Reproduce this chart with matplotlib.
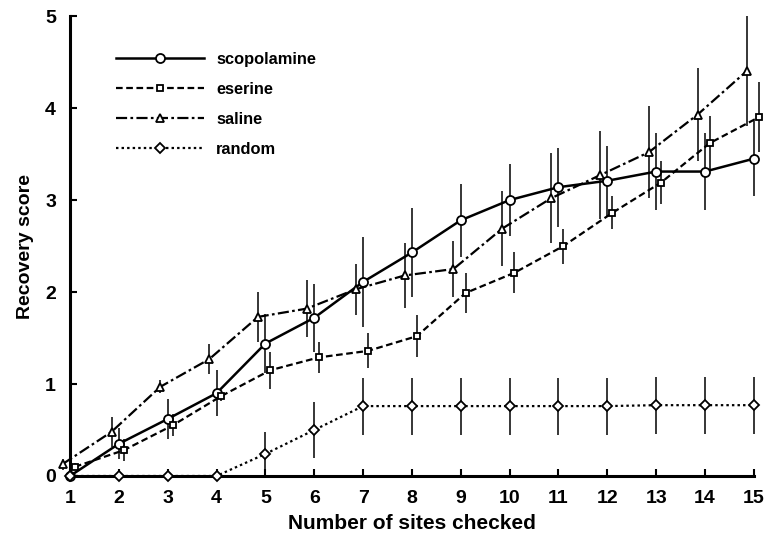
import matplotlib
matplotlib.use("Agg")
import matplotlib.pyplot as plt
import numpy as np

sites = [1, 2, 3, 4, 5, 6, 7, 8, 9, 10, 11, 12, 13, 14, 15]

scopolamine = [0.0, 0.35, 0.62, 0.90, 1.44, 1.72, 2.11, 2.43, 2.78, 3.00, 3.14, 3.21, 3.31, 3.31, 3.45]
scopolamine_err = [0.0, 0.17, 0.22, 0.25, 0.32, 0.37, 0.49, 0.48, 0.40, 0.39, 0.43, 0.38, 0.42, 0.42, 0.41]

eserine = [0.10, 0.28, 0.55, 0.87, 1.15, 1.29, 1.36, 1.52, 1.99, 2.21, 2.50, 2.86, 3.19, 3.62, 3.90]
eserine_err = [0.04, 0.12, 0.12, 0.05, 0.20, 0.17, 0.19, 0.23, 0.22, 0.22, 0.19, 0.18, 0.23, 0.29, 0.38]

saline = [0.13, 0.48, 0.97, 1.27, 1.73, 1.82, 2.03, 2.18, 2.25, 2.69, 3.02, 3.27, 3.52, 3.93, 4.40]
saline_err = [0.06, 0.16, 0.07, 0.16, 0.27, 0.31, 0.28, 0.35, 0.30, 0.41, 0.49, 0.48, 0.50, 0.51, 0.60]

random_ = [0.0, 0.0, 0.0, 0.0, 0.24, 0.50, 0.76, 0.76, 0.76, 0.76, 0.76, 0.76, 0.77, 0.77, 0.77]
random_err = [0.0, 0.0, 0.0, 0.0, 0.24, 0.30, 0.31, 0.31, 0.31, 0.31, 0.31, 0.31, 0.31, 0.31, 0.31]

labels = ["scopolamine", "eserine", "saline", "random"]
x_ticks = list(range(1, 16))
y_ticks = [0, 1, 2, 3, 4, 5]

FONT = "Liberation Sans"

fig = plt.figure(figsize=(7.7, 5.37), dpi=100)
ax = fig.add_axes([0.0909, 0.1136, 0.979 - 0.0909, 0.970 - 0.1136])

x = np.array(sites, dtype=float)

series = [
    (scopolamine, scopolamine_err, 0.0, dict(linestyle="-", linewidth=1.8, marker="o", markersize=6.5)),
    (eserine, eserine_err, 0.1, dict(linestyle=(0, (3, 1.6)), linewidth=1.6, marker="s", markersize=5)),
    (saline, saline_err, -0.15, dict(linestyle=(0, (5, 1.5, 1.2, 1.5)), linewidth=1.6, marker="^", markersize=5.5)),
    (random_, random_err, 0.0, dict(linestyle=(0, (1.1, 1.4)), linewidth=1.6, marker="D", markersize=5)),
]

handles = []
for (vals, errs, off, st), lab in zip(series, labels):
    xs = x + off
    ax.errorbar(xs, vals, yerr=errs, fmt="none", ecolor="black", elinewidth=1.1,
                capsize=0, clip_on=False, zorder=2)
    (h,) = ax.plot(xs, vals, color="black", markerfacecolor="white",
                   markeredgecolor="black", markeredgewidth=1.3, clip_on=False,
                   label=lab, zorder=3, **st)
    handles.append(h)

ax.set_xlim(1, 15)
ax.set_ylim(0, 5)
ax.set_xticks(x_ticks)
ax.set_yticks(y_ticks)
ax.set_xticklabels([str(t) for t in x_ticks], fontfamily=FONT, fontweight="bold", fontsize=14)
ax.set_yticklabels([str(t) for t in y_ticks], fontfamily=FONT, fontweight="bold", fontsize=14)
ax.tick_params(axis="both", direction="in", length=5, width=1.5, pad=10)

for s in ["top", "right"]:
    ax.spines[s].set_visible(False)
for s in ["left", "bottom"]:
    ax.spines[s].set_linewidth(2.2)

ax.set_xlabel("Number of sites checked", fontfamily=FONT, fontweight="bold", fontsize=15, labelpad=5)
ax.set_ylabel("Recovery score", fontfamily=FONT, fontweight="bold", fontsize=14, labelpad=8)

leg = ax.legend(handles=handles, loc="upper left", bbox_to_anchor=(0.045, 0.955),
                frameon=False, handlelength=5.4, labelspacing=0.92, handletextpad=0.75,
                prop=dict(family=FONT, weight="bold", size=11.8))

fig.savefig("out.png", dpi=100)
